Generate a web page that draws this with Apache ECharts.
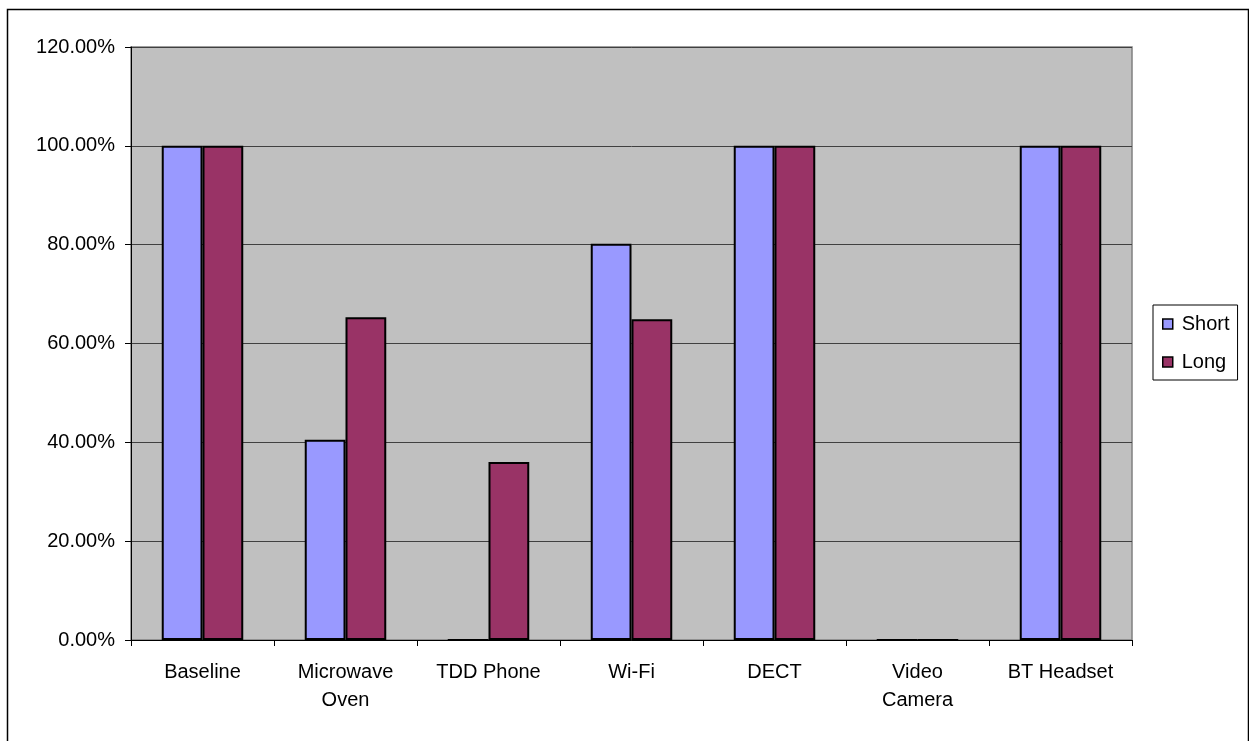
<!DOCTYPE html>
<html>
<head>
<meta charset="utf-8">
<script src="https://cdn.jsdelivr.net/npm/echarts@6/dist/echarts.min.js"></script>
<style>
html,body{margin:0;padding:0;background:#fff;}
#main{width:1249px;height:741px;}
</style>
</head>
<body>
<div id="main"></div>
<script>
const categories = ["Baseline", "Microwave\nOven", "TDD Phone", "Wi-Fi", "DECT", "Video\nCamera", "BT Headset"];
const shortValues = [100, 40.5, 0, 80.2, 100, 0, 100];
const longValues = [100, 65.3, 36.0, 64.9, 100, 0, 100];
const yTicks = { min: 0, max: 120, interval: 20 };

const chart = echarts.init(document.getElementById('main'));
const font = 'Arial, "Liberation Sans", sans-serif';
chart.setOption({
  animation: false,
  backgroundColor: '#ffffff',
  graphic: [{
    type: 'rect', left: 5, top: 7, silent: true,
    shape: { width: 1241, height: 740 },
    style: { fill: 'none', stroke: '#000', lineWidth: 1.5 }
  }],
  grid: {
    left: 131, right: 117, top: 47, bottom: 101,
    show: true, backgroundColor: '#C0C0C0', borderColor: '#808080', borderWidth: 1.5
  },
  legend: {
    orient: 'vertical',
    left: 1153, top: 305,
    padding: [9, 8, 8, 9],
    itemGap: 18,
    itemWidth: 10, itemHeight: 10,
    borderColor: '#000', borderWidth: 1,
    backgroundColor: '#fff',
    textStyle: { fontFamily: font, fontSize: 20, color: '#000', padding: [0, 0, 0, 4] },
    icon: 'rect',
    itemStyle: { borderColor: '#000', borderWidth: 1.5 },
    data: ['Short', 'Long']
  },
  xAxis: {
    type: 'category',
    data: categories,
    axisLine: { lineStyle: { color: '#000', width: 1 } },
    axisTick: { show: true, length: 6, lineStyle: { color: '#000' }, alignWithLabel: false },
    axisLabel: { fontFamily: font, fontSize: 20, color: '#000', margin: 18, lineHeight: 28, interval: 0 },
    splitLine: { show: false }
  },
  yAxis: {
    type: 'value',
    min: yTicks.min, max: yTicks.max, interval: yTicks.interval,
    axisLine: { show: true, lineStyle: { color: '#000', width: 1 } },
    axisTick: { show: true, length: 6, lineStyle: { color: '#000' } },
    axisLabel: { fontFamily: font, fontSize: 20, color: '#000', margin: 16,
      formatter: v => v.toFixed(2) + '%' },
    splitLine: { show: true, lineStyle: { color: '#404040', width: 1 } }
  },
  series: [
    { name: 'Short', type: 'bar', data: shortValues, barGap: '0%', barCategoryGap: '43%',
      itemStyle: { color: '#9999FF', borderColor: '#000', borderWidth: 2 } },
    { name: 'Long', type: 'bar', data: longValues, barGap: '0%', barCategoryGap: '43%',
      itemStyle: { color: '#993366', borderColor: '#000', borderWidth: 2 } }
  ]
});
</script>
</body>
</html>
